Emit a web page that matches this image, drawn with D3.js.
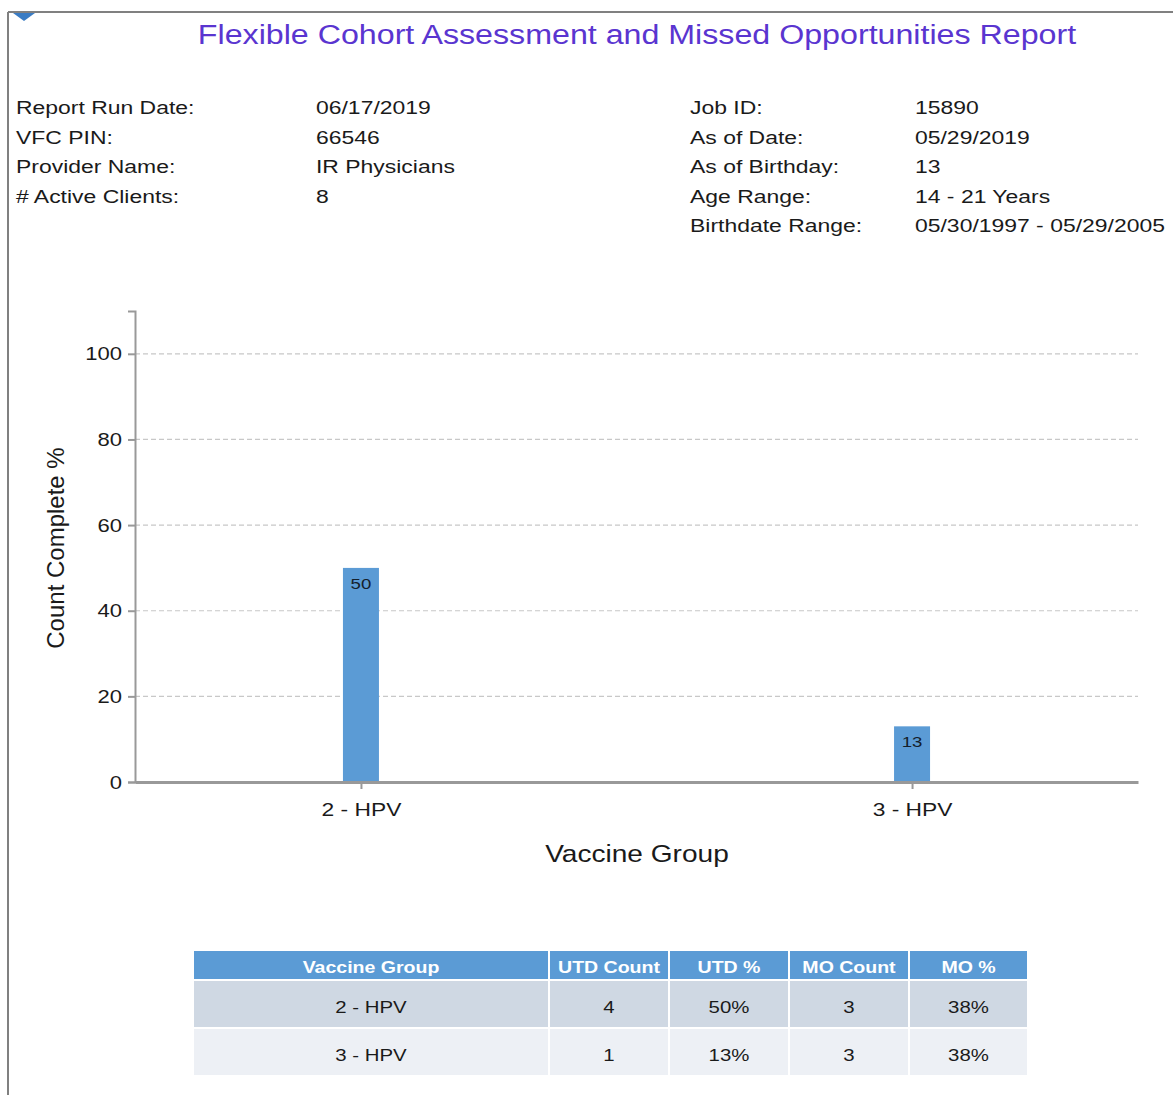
<!DOCTYPE html>
<html>
<head>
<meta charset="utf-8">
<script src="https://cdn.jsdelivr.net/npm/d3@7"></script>
<style>
  body { margin: 0; background: #fff; }
  svg { display: block; font-family: "Liberation Sans", Arial, sans-serif; }
</style>
</head>
<body>
<div id="report"></div>
<script>
// report header info
const infoLeftLabels = ["Report Run Date:", "VFC PIN:", "Provider Name:", "# Active Clients:"];
const infoLeftValues = ["06/17/2019", "66546", "IR Physicians", "8"];
const infoRightLabels = ["Job ID:", "As of Date:", "As of Birthday:", "Age Range:", "Birthdate Range:"];
const infoRightValues = ["15890", "05/29/2019", "13", "14 - 21 Years", "05/30/1997 - 05/29/2005"];

// chart data
const groups = ["2 - HPV", "3 - HPV"];
const completePct = [50, 13];
const yTicks = [0, 20, 40, 60, 80, 100];

// table data
const tableHeaders = ["Vaccine Group", "UTD Count", "UTD %", "MO Count", "MO %"];
const utdCount = [4, 1];
const utdPct = ["50%", "13%"];
const moCount = [3, 3];
const moPct = ["38%", "38%"];

const W = 1173, H = 1095;
const svg = d3.select("#report").append("svg")
    .attr("width", W).attr("height", H);

// the report text is rendered wide, stretch it horizontally
function wideText(parent, x, y, sx) {
    return parent.append("text")
        .attr("transform", "translate(" + x + "," + y + ") scale(" + sx + ",1)");
}
function stretchTicks(sel, sx) {
    sel.each(function () {
        const t = d3.select(this);
        const x0 = +t.attr("x") || 0;
        t.attr("x", x0 / sx).attr("transform", "scale(" + sx + ",1)");
    });
}

// page frame (top + left edge)
svg.append("line").attr("x1", 8).attr("x2", W).attr("y1", 12).attr("y2", 12)
    .attr("stroke", "#808080").attr("stroke-width", 2);
svg.append("line").attr("x1", 8).attr("x2", 8).attr("y1", 12).attr("y2", H)
    .attr("stroke", "#808080").attr("stroke-width", 2);
svg.append("path").attr("d", "M13,13 L35,13 L24,21 Z").attr("fill", "#3a7cc4");

wideText(svg, 637, 44, 1.15)
    .attr("text-anchor", "middle")
    .attr("font-size", 28)
    .attr("fill", "#5a35d0")
    .text("Flexible Cohort Assessment and Missed Opportunities Report");

// info block
function infoColumn(labels, values, xLab, xVal) {
    labels.forEach(function (d, i) {
        const y = 114 + i * 29.5;
        wideText(svg, xLab, y, 1.24)
            .attr("font-size", 18.5).attr("fill", "#1a1a1a").text(d);
        wideText(svg, xVal, y, 1.24)
            .attr("font-size", 18.5).attr("fill", "#1a1a1a").text(values[i]);
    });
}
infoColumn(infoLeftLabels, infoLeftValues, 16, 316);
infoColumn(infoRightLabels, infoRightValues, 690, 915);

// chart
const plotLeft = 135, plotRight = 1138, plotTop = 311, plotBottom = 782;

const y = d3.scaleLinear().domain([0, 110]).range([plotBottom, plotTop]);
const x = d3.scalePoint().domain(groups).range([plotLeft, plotRight]).padding(0.41);
const barW = 36;

const chart = svg.append("g");

// grid lines
chart.selectAll(".grid")
    .data(yTicks.filter(d => d > 0))
    .enter()
    .append("line")
    .attr("class", "grid")
    .attr("x1", plotLeft).attr("x2", plotRight)
    .attr("y1", d => y(d)).attr("y2", d => y(d))
    .attr("stroke", "#c8c8c8")
    .attr("stroke-width", 1.2)
    .attr("stroke-dasharray", "5,3");

// y axis
const yAxis = chart.append("g")
    .attr("transform", "translate(" + plotLeft + ",0)")
    .call(d3.axisLeft(y).tickValues(yTicks).tickSize(7).tickPadding(6));
yAxis.select(".domain").attr("stroke", "#999").attr("stroke-width", 2);
yAxis.selectAll(".tick line").attr("stroke", "#999").attr("stroke-width", 2);
yAxis.selectAll(".tick text")
    .attr("font-size", 19).attr("fill", "#1a1a1a")
    .attr("font-family", "Liberation Sans, Arial, sans-serif");
stretchTicks(yAxis.selectAll(".tick text"), 1.16);

// bars
chart.selectAll(".bar")
    .data(groups)
    .enter()
    .append("rect")
    .attr("class", "bar")
    .attr("x", d => x(d) - barW / 2)
    .attr("y", (d, i) => y(completePct[i]))
    .attr("width", barW)
    .attr("height", (d, i) => plotBottom - y(completePct[i]))
    .attr("fill", "#5b9bd5");

groups.forEach(function (g, i) {
    wideText(chart, x(g), y(completePct[i]) + 21, 1.2)
        .attr("text-anchor", "middle")
        .attr("font-size", 15.5)
        .attr("fill", "#14202c")
        .text(completePct[i]);
});

// x axis
const xAxis = chart.append("g")
    .attr("transform", "translate(0," + plotBottom + ")")
    .call(d3.axisBottom(x).tickSize(7).tickPadding(14).tickSizeOuter(0));
xAxis.select(".domain").attr("stroke", "#999").attr("stroke-width", 3);
xAxis.selectAll(".tick line").attr("stroke", "#999").attr("stroke-width", 2);
xAxis.selectAll(".tick text")
    .attr("font-size", 19).attr("fill", "#1a1a1a")
    .attr("font-family", "Liberation Sans, Arial, sans-serif");
stretchTicks(xAxis.selectAll(".tick text"), 1.2);

wideText(svg, 637, 862, 1.17)
    .attr("text-anchor", "middle")
    .attr("font-size", 24).attr("fill", "#1a1a1a")
    .text("Vaccine Group");

svg.append("text")
    .attr("transform", "translate(64,548) rotate(-90)")
    .attr("text-anchor", "middle")
    .attr("font-size", 24).attr("fill", "#1a1a1a")
    .text("Count Complete %");

// summary table
const colX = [193, 549, 669, 789, 909, 1028];
const headY = 950, headH = 30, rowH = 48;
const rows = groups.map((g, i) => [g, utdCount[i], utdPct[i], moCount[i], moPct[i]]);
const rowFill = ["#cfd8e3", "#edf0f5"];

const table = svg.append("g");
tableHeaders.forEach(function (h, j) {
    table.append("rect")
        .attr("x", colX[j]).attr("y", headY)
        .attr("width", colX[j + 1] - colX[j]).attr("height", headH)
        .attr("fill", "#5b9bd5").attr("stroke", "#fff").attr("stroke-width", 2);
    wideText(table, (colX[j] + colX[j + 1]) / 2, headY + 23, 1.15)
        .attr("text-anchor", "middle")
        .attr("font-size", 17).attr("font-weight", "bold").attr("fill", "#fff")
        .text(h);
});
rows.forEach(function (r, i) {
    r.forEach(function (v, j) {
        const ry = headY + headH + i * rowH;
        table.append("rect")
            .attr("x", colX[j]).attr("y", ry)
            .attr("width", colX[j + 1] - colX[j]).attr("height", rowH)
            .attr("fill", rowFill[i]).attr("stroke", "#fff").attr("stroke-width", 2);
        wideText(table, (colX[j] + colX[j + 1]) / 2, ry + 33, 1.2)
            .attr("text-anchor", "middle")
            .attr("font-size", 17).attr("fill", "#1a1a1a")
            .text(v);
    });
});
</script>
</body>
</html>
